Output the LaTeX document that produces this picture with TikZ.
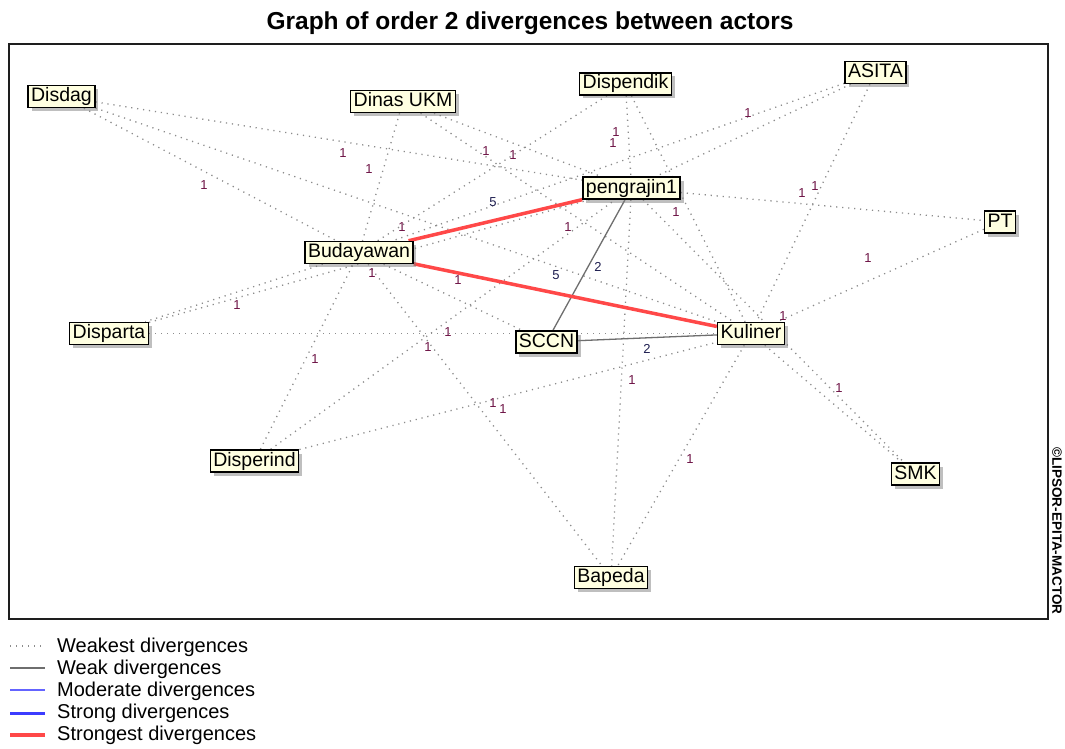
\documentclass[tikz,border=0pt]{standalone}
\usepackage{fontspec}
\setmainfont{Liberation Sans}
\usetikzlibrary{shadows,backgrounds}
\definecolor{boxfill}{RGB}{255,255,225}
\definecolor{dotgray}{RGB}{140,140,140}
\definecolor{weakgray}{RGB}{110,110,110}
\definecolor{strongred}{RGB}{255,72,72}
\definecolor{modblue}{RGB}{100,100,255}
\definecolor{strongblue}{RGB}{60,60,255}
\definecolor{lblone}{RGB}{110,20,70}
\definecolor{lblnum}{RGB}{30,30,80}
\definecolor{framecol}{RGB}{30,30,30}
\begin{document}
\begin{tikzpicture}[x=1pt,y=-1pt,
  actor/.style={draw=black, line width=1.5pt, fill=boxfill,
    font=\fontsize{19.5}{20}\selectfont, inner xsep=3pt, inner ysep=2pt,
    text height=14pt, text depth=4pt,
    drop shadow={shadow xshift=3.5pt, shadow yshift=-3.5pt, opacity=0.5, fill=gray}},
  weakest/.style={draw=dotgray, line width=1.3pt, dash pattern=on 1.2pt off 4.8pt},
  weak/.style={draw=weakgray, line width=1.3pt},
  moderate/.style={draw=modblue, line width=1.4pt},
  strong/.style={draw=strongblue, line width=3pt},
  strongest/.style={draw=strongred, line width=3.5pt},
  lbl/.style={font=\fontsize{13}{13}\selectfont, text=lblone, inner sep=0pt},
  lblb/.style={font=\fontsize{13}{13}\selectfont, text=lblnum, inner sep=0pt},
  legtext/.style={font=\fontsize{20}{20}\selectfont, anchor=west, inner sep=0pt},
]
\useasboundingbox (0,0) rectangle (1065,749);

% title
\node[font=\bfseries\fontsize{24.5}{25}\selectfont] (title) at (530,23) {Graph of order 2 divergences between actors};

% frame
\draw[line width=2pt, draw=framecol] (9,44) rectangle (1048,619);

% actors
\node[actor] (disdag)    at (61.5,96.5) {Disdag};
\node[actor] (ukm)       at (403,101.5) {Dinas UKM};
\node[actor] (dispendik) at (625.5,84)  {Dispendik};
\node[actor] (asita)     at (875.5,72.5) {ASITA};
\node[actor] (peng)      at (631.5,188) {pengrajin1};
\node[actor] (pt)        at (1000,222)  {PT};
\node[actor] (buda)      at (359,252.5) {Budayawan};
\node[actor] (disparta)  at (109,333.5) {Disparta};
\node[actor] (sccn)      at (546.5,342) {SCCN};
\node[actor] (kuliner)   at (751,333.5) {Kuliner};
\node[actor] (disperind) at (254.5,461) {Disperind};
\node[actor] (smk)       at (915.5,474) {SMK};
\node[actor] (bapeda)    at (611,577.5) {Bapeda};

% connectors
\begin{scope}[on background layer]
\fill[white] (0,0) rectangle (1065,749);
\draw[weakest] (disdag) -- (peng);
\draw[weakest] (disdag) -- (buda);
\draw[weakest] (disdag) -- (kuliner);
\draw[weakest] (ukm) -- (buda);
\draw[weakest] (ukm) -- (peng);
\draw[weakest] (ukm) -- (kuliner);
\draw[weakest] (dispendik) -- (buda);
\draw[weakest] (dispendik) -- (peng);
\draw[weakest] (dispendik) -- (kuliner);
\draw[weakest] (asita) -- (buda);
\draw[weakest] (asita) -- (peng);
\draw[weakest] (asita) -- (kuliner);
\draw[weakest] (peng) -- (pt);
\draw[weakest] (pt) -- (kuliner);
\draw[weakest] (buda) -- (disparta);
\draw[weakest] (disparta) -- (peng);
\draw[weakest] (disparta) -- (kuliner);
\draw[weakest] (disperind) -- (peng);
\draw[weakest] (disperind) -- (buda);
\draw[weakest] (disperind) -- (kuliner);
\draw[weakest] (buda) -- (bapeda);
\draw[weakest] (buda) -- (sccn);
\draw[weakest] (kuliner) -- (smk);
\draw[weakest] (peng) -- (smk);
\draw[weakest] (kuliner) -- (bapeda);
\draw[weakest] (peng) -- (bapeda);
\draw[weak] (peng) -- (sccn);
\draw[weak] (sccn) -- (kuliner);
\draw[strongest] (buda) -- (peng);
\draw[strongest] (buda) -- (kuliner);
\end{scope}

% labels
\node[lbl] (n1)  at (343,153) {1};
\node[lbl] (n2)  at (369,169) {1};
\node[lbl] (n3)  at (204,185) {1};
\node[lbl] (n4)  at (486,151) {1};
\node[lbl] (n5)  at (513,155) {1};
\node[lbl] (n6)  at (616,132) {1};
\node[lbl] (n7)  at (613,143) {1};
\node[lbl] (n8)  at (748,113) {1};
\node[lbl] (n9)  at (802,193) {1};
\node[lbl] (n10) at (815,186) {1};
\node[lblb] (n11) at (493,202) {5};
\node[lbl] (n12) at (402,227) {1};
\node[lbl] (n13) at (676,212) {1};
\node[lbl] (n14) at (568,227) {1};
\node[lblb] (n15) at (556,275) {5};
\node[lblb] (n16) at (598,267) {2};
\node[lbl] (n17) at (372,273) {1};
\node[lbl] (n18) at (458,280) {1};
\node[lbl] (n19) at (237,305) {1};
\node[lbl] (n20) at (868,258) {1};
\node[lbl] (n21) at (783,316) {1};
\node[lbl] (n22) at (448,332) {1};
\node[lbl] (n23) at (428,347) {1};
\node[lblb] (n24) at (647,349) {2};
\node[lbl] (n25) at (315,359) {1};
\node[lbl] (n26) at (632,380) {1};
\node[lbl] (n27) at (839,388) {1};
\node[lbl] (n28) at (493,403) {1};
\node[lbl] (n29) at (503,409) {1};
\node[lbl] (n30) at (690,459) {1};

% watermark
\node[rotate=-90, font=\bfseries\fontsize{13.5}{13.5}\selectfont, inner sep=0pt] (wm) at (1057,531) {©LIPSOR-EPITA-MACTOR};

% legend
\coordinate (a1) at (10,646); \coordinate (b1) at (45,646);
\coordinate (a2) at (10,668); \coordinate (b2) at (45,668);
\coordinate (a3) at (10,690); \coordinate (b3) at (45,690);
\coordinate (a4) at (10,713); \coordinate (b4) at (45,713);
\coordinate (a5) at (10,735); \coordinate (b5) at (45,735);
\draw[weakest] (a1) -- (b1);
\draw[weak] (a2) -- (b2);
\draw[moderate] (a3) -- (b3);
\draw[strong] (a4) -- (b4);
\draw[strongest] (a5) -- (b5);
\node[legtext] (t1) at (57,647) {Weakest divergences};
\node[legtext] (t2) at (57,669) {Weak divergences};
\node[legtext] (t3) at (57,691) {Moderate divergences};
\node[legtext] (t4) at (57,713) {Strong divergences};
\node[legtext] (t5) at (57,735) {Strongest divergences};
\end{tikzpicture}
\end{document}
